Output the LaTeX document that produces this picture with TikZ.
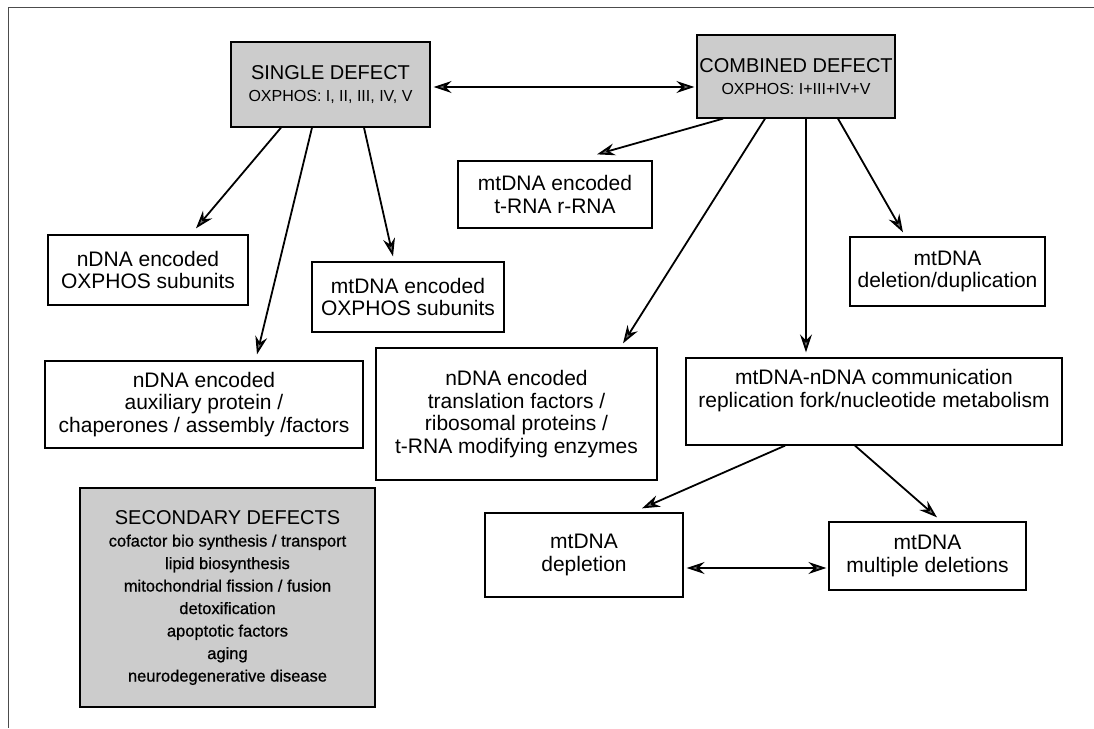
\documentclass[tikz,border=0pt]{standalone}
\usepackage{fontspec}
\setmainfont{Liberation Sans}
\newfontfamily\listfont[FakeBold=0.8]{Liberation Sans}
\usetikzlibrary{arrows.meta,calc}

\tikzset{
  box/.style={draw=black, line width=1.3pt, fill=white, inner sep=0pt, align=center,
              font=\fontsize{21}{22.5}\selectfont},
  graybox/.style={box, fill=black!20},
  tip/.tip={Stealth[length=18pt,width=12pt,inset=6pt,fill=black!55]},
  link/.style={line width=1.8pt, draw=black, -tip},
  twoway/.style={line width=1.8pt, draw=black, tip-tip},
}
\newcommand{\hdrtext}[1]{{\fontsize{20}{22}\selectfont #1}}
\newcommand{\subtext}[1]{{\fontsize{16}{18}\selectfont #1}}
\newcommand{\listline}[1]{{\listfont\fontsize{16.5}{22.5}\selectfont #1}}

\begin{document}
\begin{tikzpicture}[x=1pt,y=-1pt]
  % page area
  \path[use as bounding box, fill=white] (0,0) rectangle (1094,728);
  % frame (top and left edges)
  \draw[line width=1pt, black!70] (1094,7) -- (8,7) -- (8,728);

  % primary classes
  \node[graybox, minimum width=199pt, minimum height=85pt] (single) at (330.5,84.5)
    {\hdrtext{SINGLE DEFECT}\\[0pt]\subtext{OXPHOS: I, II, III, IV, V}};
  \node[graybox, minimum width=198pt, minimum height=83pt] (combined) at (796,76.5)
    {\hdrtext{COMBINED DEFECT}\\[-1pt]\subtext{OXPHOS: I+III+IV+V}};

  % single defect targets
  \node[box, minimum width=200pt, minimum height=70pt] (noxphos) at (148,270)
    {nDNA encoded\\OXPHOS subunits};
  \node[box, minimum width=192pt, minimum height=70pt] (moxphos) at (408,297)
    {mtDNA encoded\\OXPHOS subunits};
  \node[box, minimum width=318pt, minimum height=87pt] (aux) at (204,404.5)
    {nDNA encoded\\auxiliary protein /\\chaperones / assembly /factors};

  % combined defect targets
  \node[box, minimum width=194pt, minimum height=67pt] (trna) at (555,194.5)
    {mtDNA encoded\\t-RNA r-RNA};
  \node[box, minimum width=195pt, minimum height=69pt] (deldup) at (947.5,271.5)
    {mtDNA\\deletion/duplication};
  \node[box, minimum width=281pt, minimum height=132pt] (transl) at (516.5,414)
    {nDNA encoded\\translation factors /\\ribosomal proteins /\\t-RNA modifying enzymes};
  \node[box, minimum width=376pt, minimum height=87pt] (comm) at (874,401.5)
    {mtDNA-nDNA communication\\replication fork/nucleotide metabolism\\[4pt]};
  \node[box, minimum width=198pt, minimum height=84pt] (depl) at (584,555)
    {mtDNA\\depletion};
  \node[box, minimum width=197pt, minimum height=68pt] (multi) at (927.5,556)
    {mtDNA\\multiple deletions};

  % secondary defects
  \node[graybox, minimum width=295pt, minimum height=219pt] (secondary) at (227.5,597.5)
    {\hdrtext{SECONDARY DEFECTS}\\
     \listline{cofactor bio synthesis / transport}\\
     \listline{lipid biosynthesis}\\
     \listline{mitochondrial fission / fusion}\\
     \listline{detoxification}\\
     \listline{apoptotic factors}\\
     \listline{aging}\\
     \listline{neurodegenerative disease}};

  % connectors
  \draw[twoway] ([xshift=3pt]single.east |- 0,87) -- ([xshift=-2pt]combined.west |- 0,87);

  \draw[link] ([xshift=-49.5pt]single.south) -- ([xshift=48pt,yshift=6pt]noxphos.north);
  \draw[link] ([xshift=-18.5pt]single.south) -- ([xshift=53pt,yshift=6pt]aux.north);
  \draw[link] ([xshift=33.5pt]single.south) -- ([xshift=-15pt,yshift=5pt]moxphos.north);

  \draw[link] ([xshift=-73pt]combined.south) -- ([xshift=42pt,yshift=6pt]trna.north);
  \draw[link] ([xshift=-31pt]combined.south) -- ([xshift=106.5pt,yshift=4pt]transl.north);
  \draw[link] ([xshift=10pt]combined.south) -- ([xshift=10pt,yshift=5pt]combined.south |- comm.north);
  \draw[link] ([xshift=42pt]combined.south) -- ([xshift=-44.5pt,yshift=4pt]deldup.north);

  \draw[link] ([xshift=-89pt]comm.south) -- ([xshift=58pt,yshift=4pt]depl.north);
  \draw[link] ([xshift=-19pt]comm.south) -- ([xshift=9.5pt,yshift=4pt]multi.north);
  \draw[twoway] ([xshift=3pt]depl.east |- 0,568) -- ([xshift=-2pt]multi.west |- 0,568);
\end{tikzpicture}
\end{document}
